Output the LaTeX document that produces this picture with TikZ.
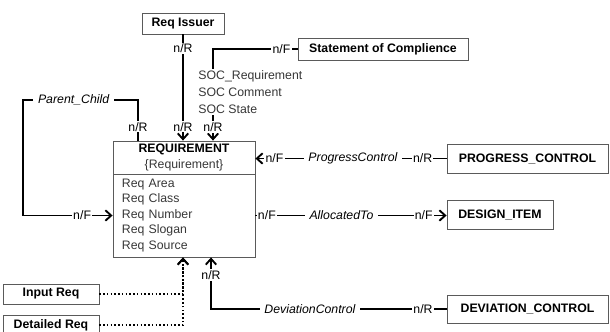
\documentclass[tikz,border=0pt]{standalone}
\usepackage{fontspec}
\setmainfont{Liberation Sans}
\usetikzlibrary{arrows.meta,positioning}
\definecolor{boxline}{RGB}{90,90,90}
\definecolor{attrgray}{RGB}{55,55,55}

\begin{document}
\begin{tikzpicture}[x=0.03cm,y=-0.03cm,
  font=\fontsize{10.5}{13}\selectfont,
  entity/.style={draw=boxline,line width=0.7pt,inner sep=0pt,font=\fontsize{10.5}{13}\selectfont\bfseries},
  conn/.style={line width=1.2pt},
  arr/.style={conn,-{Straight Barb[length=5pt,width=9pt,line width=1.6pt]}},
  dotarr/.style={arr,dotted},
  lbl/.style={fill=white,inner sep=1pt},
  role/.style={lbl,inner xsep=4pt,font=\fontsize{10.5}{13}\selectfont\itshape}]

\clip (0,0) rectangle (610,331);

% entity boxes
\node[entity,minimum width=2.46cm,minimum height=0.63cm] (issuer) at (183,23.5) {Req Issuer};
\node[entity,minimum width=5.1cm,minimum height=0.66cm] (stmt) at (383,49) {Statement of Complience};
\node[entity,minimum width=4.83cm,minimum height=0.87cm] (progress) at (527.5,158.5) {PROGRESS\_CONTROL};
\node[entity,minimum width=3.18cm,minimum height=0.87cm] (design) at (500,214.5) {DESIGN\_ITEM};
\node[entity,minimum width=4.83cm,minimum height=0.84cm] (deviation) at (527.5,309) {DEVIATION\_CONTROL};
\node[entity,minimum width=2.88cm,minimum height=0.6cm] (inputreq) at (51,294) {Input Req};
\node[entity,minimum width=2.88cm,minimum height=0.6cm] (detailed) at (51,325) {Detailed Req};

% the REQUIREMENT class box
\node[entity,minimum width=4.26cm,minimum height=0.99cm,align=center] (reqhead) at (184,157.5)
  {REQUIREMENT\\{\mdseries\color{attrgray}\{Requirement\}}};
\node[draw=boxline,line width=0.7pt,minimum width=4.26cm,minimum height=2.49cm,inner xsep=0.27cm,
  text width=3.72cm,align=left,text=attrgray,font=\fontsize{10.5}{13.2}\selectfont] (reqbody) at (184,215.5)
  {Req Area\\Req Class\\Req Number\\Req Slogan\\Req Source};

% Req Issuer
\draw[arr] (issuer.south) -- (issuer.south |- reqhead.north)
  node[lbl,pos=0.13]{n/R} node[lbl,pos=0.87]{n/R};

% Statement of Complience
\coordinate (socturn) at (213,49);
\draw[arr] (stmt.west) -- (socturn) node[lbl,pos=0.19]{n/F}
  -- (socturn |- reqhead.north) node[lbl,pos=0.85]{n/R};
\node[fill=white,align=left,inner sep=1pt,anchor=north west,text=attrgray,
  font=\fontsize{10.5}{14.5}\selectfont] (soc) at (197,69)
  {SOC\_Requirement\\SOC Comment\\SOC State};

% Parent_Child
\coordinate (pctop) at (138,100);
\coordinate (pcleft) at (23,100);
\draw[arr] (pctop |- reqhead.north) -- (pctop) node[lbl,pos=0.34]{n/R}
  -- (pcleft) node[role,pos=0.56]{Parent\_Child}
  |- (reqbody.west) node[lbl,pos=0.83]{n/F};

% ProgressControl
\draw[arr] (progress.west) -- (progress.west -| reqhead.east)
  node[lbl,pos=0.125]{n/R} node[role,pos=0.49]{ProgressControl} node[lbl,pos=0.9]{n/F};

% AllocatedTo
\draw[arr] (reqbody.east) -- (reqbody.east -| design.west)
  node[lbl,pos=0.06]{n/F} node[role,pos=0.45]{AllocatedTo} node[lbl,pos=0.88]{n/F};

% DeviationControl
\coordinate (devcol) at (211,0);
\draw[arr] (deviation.west) -| (devcol |- reqbody.south)
  node[lbl,pos=0.05]{n/R} node[role,pos=0.29]{DeviationControl} node[lbl,pos=0.83]{n/R};

% Input Req / Detailed Req
\draw[dotarr] (inputreq.east) -| (issuer.south |- reqbody.south);
\draw[dotarr] (detailed.east) -| (issuer.south |- reqbody.south);
\end{tikzpicture}
\end{document}
